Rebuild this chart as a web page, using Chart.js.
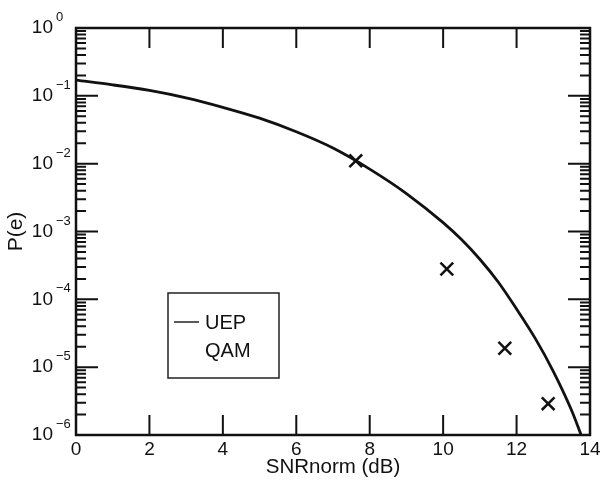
<!DOCTYPE html>
<html>
<head>
<meta charset="utf-8">
<script src="https://cdn.jsdelivr.net/npm/chart.js@4/dist/chart.umd.min.js"></script>
<style>
html,body{margin:0;padding:0;background:#fff}
#wrap{width:605px;height:490px}
</style>
</head>
<body>
<div id="wrap"><canvas id="perr"></canvas></div>
<script>
// UEP curve
const uepX = [0,1,2,3,4,5,6,7,8,9,10,10.5,11,11.5,12,12.5,13,13.5,13.76]
const uepY = [0.170,0.145,0.120,0.0933,0.0676,0.0468,0.0295,0.0170,0.00832,0.00363,0.00135,7.6e-4,3.9e-4,1.8e-4,7.2e-5,2.7e-5,8.7e-6,2.3e-6,1.0e-6]

// QAM points (x markers)
const qamX = [7.62,10.1,11.68,12.86]
const qamY = [1.1e-2,2.8e-4,1.9e-5,2.9e-6]

const xTicks = [0,2,4,6,8,10,12,14]
const yTicks = [1e-6,1e-5,1e-4,1e-3,1e-2,1e-1,1]
const yTickBase = '10'
const yTickExps = ['\u22126','\u22125','\u22124','\u22123','\u22122','\u22121','0']

const FONT = "'Liberation Sans', Arial, Helvetica, sans-serif"
const INK = '#111'

// box round the plot + inward ticks on all four sides
const frameTicks = {
  id: 'frameTicks',
  afterDatasetsDraw(c) {
    const {ctx, chartArea: a, scales: {x, y}} = c
    ctx.save()
    ctx.strokeStyle = INK
    ctx.lineWidth = 2
    ctx.beginPath()
    xTicks.slice(1, -1).forEach(v => {
      const px = x.getPixelForValue(v)
      ctx.moveTo(px, a.bottom); ctx.lineTo(px, a.bottom - 20)
      ctx.moveTo(px, a.top); ctx.lineTo(px, a.top + 20)
    })
    for (let e = -6; e < 0; e++) {
      for (let m = 1; m < 10; m++) {
        const py = y.getPixelForValue(m * Math.pow(10, e))
        const len = m == 1 ? 22 : 10
        if (m == 1 && e == -6) continue
        ctx.moveTo(a.left, py); ctx.lineTo(a.left + len, py)
        ctx.moveTo(a.right, py); ctx.lineTo(a.right - len, py)
      }
    }
    ctx.stroke()
    ctx.lineWidth = 2.5
    ctx.strokeRect(a.left, a.top, a.right - a.left, a.bottom - a.top)

    // exponents next to the "10" tick labels
    ctx.font = '13px ' + FONT
    ctx.fillStyle = INK
    ctx.textAlign = 'left'
    ctx.textBaseline = 'alphabetic'
    yTicks.forEach((v, i) => {
      const py = y.getPixelForValue(v)
      ctx.fillText(yTickExps[i], a.left - 20, py - 7)
    })
    ctx.restore()
  }
}

// legend box sitting inside the plot
const boxLegend = {
  id: 'boxLegend',
  afterDraw(c) {
    const {ctx, chartArea: a} = c
    const bx = a.left + 92, by = a.top + 265, bw = 111, bh = 85
    ctx.save()
    ctx.strokeStyle = '#222'
    ctx.lineWidth = 1.5
    ctx.strokeRect(bx, by, bw, bh)
    ctx.font = '20px ' + FONT
    ctx.fillStyle = INK
    ctx.textBaseline = 'middle'
    c.data.datasets.forEach((ds, i) => {
      const ty = by + 29 + i * 28
      if (ds.showLine) {
        ctx.lineWidth = 1.5
        ctx.beginPath()
        ctx.moveTo(bx + 6, ty); ctx.lineTo(bx + 31, ty)
        ctx.stroke()
      }
      ctx.fillText(ds.label, bx + 37, ty + 1)
    })
    ctx.restore()
  }
}

const ctx = document.getElementById('perr')

new Chart(ctx, {
  type: 'scatter',
  data: {
    datasets: [
      {
        label: 'UEP',
        data: uepX.map((v, i) => ({x: v, y: uepY[i]})),
        showLine: true,
        borderColor: INK,
        borderWidth: 2.8,
        pointRadius: 0,
        cubicInterpolationMode: 'monotone'
      },
      {
        label: 'QAM',
        data: qamX.map((v, i) => ({x: v, y: qamY[i]})),
        showLine: false,
        pointStyle: 'crossRot',
        pointRadius: 9,
        borderColor: INK,
        borderWidth: 2.5
      }
    ]
  },
  plugins: [frameTicks, boxLegend],
  options: {
    responsive: true,
    maintainAspectRatio: false,
    animation: false,
    layout: {padding: {top: 28, right: 15, left: 0, bottom: 0}},
    plugins: {
      legend: {display: false},
      tooltip: {enabled: false}
    },
    scales: {
      x: {
        type: 'linear',
        min: 0,
        max: 14,
        afterBuildTicks: s => { s.ticks = xTicks.map(v => ({value: v})) },
        afterFit: s => { s.height = 55 },
        grid: {display: false, drawTicks: false},
        border: {display: false},
        ticks: {
          autoSkip: false,
          maxRotation: 0,
          padding: 3,
          color: INK,
          font: {family: FONT, size: 19}
        },
        title: {
          display: true,
          text: 'SNRnorm (dB)',
          color: INK,
          font: {family: FONT, size: 20.5},
          padding: {top: 0, bottom: 10}
        }
      },
      y: {
        type: 'logarithmic',
        min: 1e-6,
        max: 1,
        afterBuildTicks: s => { s.ticks = yTicks.map(v => ({value: v})) },
        afterFit: s => {
          s.width = 76
          s.paddingTop = 0
          s.paddingBottom = 0
        },
        grid: {display: false, drawTicks: false},
        border: {display: false},
        ticks: {
          autoSkip: false,
          padding: 23,
          color: INK,
          font: {family: FONT, size: 19},
          callback: () => yTickBase
        },
        title: {
          display: true,
          text: 'P(e)',
          color: INK,
          font: {family: FONT, size: 21},
          padding: {top: 4, bottom: 0}
        }
      }
    }
  }
})
</script>
</body>
</html>
